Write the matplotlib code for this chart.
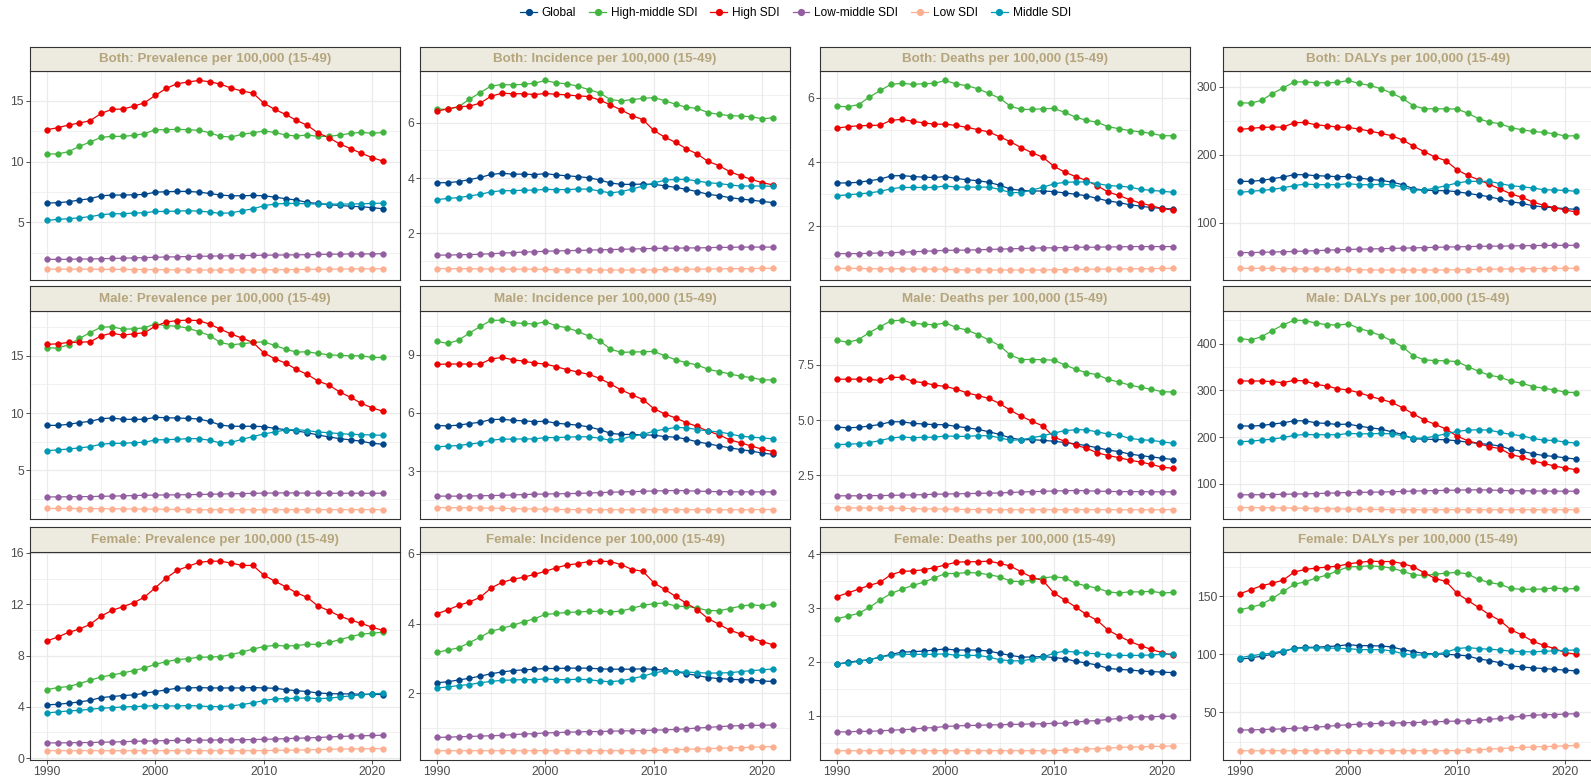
import matplotlib

matplotlib.use("Agg")
import matplotlib.pyplot as plt
from matplotlib.lines import Line2D

plt.rcParams["font.family"] = ["Liberation Sans", "DejaVu Sans"]

years = list(range(1990, 2022))
series_names = ["Global", "High-middle SDI", "High SDI", "Low-middle SDI", "Low SDI", "Middle SDI"]
series_colors = ["#00468B", "#42B540", "#ED0000", "#925E9F", "#FDAF91", "#0099B4"]

# ---- Both: Prevalence ----
both_prev_global = [6.59, 6.62, 6.70, 6.84, 6.95, 7.19, 7.25, 7.25, 7.27, 7.30, 7.49, 7.52, 7.55, 7.55, 7.49, 7.38,
                    7.25, 7.19, 7.19, 7.22, 7.19, 7.08, 6.95, 6.84, 6.64, 6.56, 6.45, 6.40, 6.32, 6.29, 6.21, 6.12]
both_prev_hm = [10.63, 10.63, 10.82, 11.26, 11.62, 12.00, 12.08, 12.08, 12.16, 12.30, 12.63, 12.63, 12.66, 12.63, 12.58, 12.38,
                12.08, 12.03, 12.25, 12.38, 12.52, 12.41, 12.19, 12.11, 12.19, 12.08, 12.08, 12.19, 12.33, 12.41, 12.33, 12.41]
both_prev_high = [12.63, 12.79, 13.01, 13.18, 13.37, 13.97, 14.30, 14.33, 14.55, 14.85, 15.45, 16.03, 16.41, 16.55, 16.68, 16.58,
                  16.38, 16.05, 15.81, 15.64, 14.82, 14.30, 13.89, 13.40, 12.99, 12.36, 11.97, 11.45, 11.07, 10.68, 10.33, 10.03]
both_prev_lm = [1.96, 1.96, 1.97, 1.98, 1.99, 2.01, 2.03, 2.05, 2.08, 2.10, 2.13, 2.15, 2.17, 2.19, 2.21, 2.22,
                2.24, 2.25, 2.27, 2.28, 2.30, 2.31, 2.32, 2.33, 2.34, 2.36, 2.38, 2.39, 2.40, 2.40, 2.41, 2.42]
both_prev_low = [1.15, 1.15, 1.15, 1.15, 1.14, 1.14, 1.13, 1.13, 1.12, 1.12, 1.11, 1.10, 1.09, 1.09, 1.08, 1.08,
                 1.08, 1.08, 1.08, 1.08, 1.09, 1.10, 1.11, 1.12, 1.13, 1.14, 1.15, 1.16, 1.17, 1.18, 1.18, 1.19]
both_prev_mid = [5.16, 5.25, 5.30, 5.38, 5.47, 5.63, 5.71, 5.71, 5.77, 5.79, 5.90, 5.90, 5.93, 5.96, 5.93, 5.85,
                 5.74, 5.79, 5.96, 6.12, 6.37, 6.51, 6.56, 6.56, 6.53, 6.51, 6.51, 6.51, 6.51, 6.53, 6.56, 6.59]

# ---- Both: Incidence ----
both_inc_global = [3.83, 3.83, 3.87, 3.94, 4.02, 4.13, 4.17, 4.14, 4.14, 4.12, 4.16, 4.11, 4.08, 4.05, 4.01, 3.93,
                   3.82, 3.77, 3.77, 3.78, 3.77, 3.72, 3.66, 3.59, 3.51, 3.41, 3.36, 3.29, 3.24, 3.20, 3.15, 3.11]
both_inc_hm = [6.50, 6.48, 6.58, 6.85, 7.09, 7.33, 7.38, 7.37, 7.39, 7.43, 7.53, 7.44, 7.41, 7.32, 7.20, 7.08,
               6.84, 6.79, 6.84, 6.88, 6.91, 6.80, 6.67, 6.56, 6.52, 6.37, 6.30, 6.26, 6.24, 6.22, 6.14, 6.18]
both_inc_high = [6.42, 6.50, 6.58, 6.60, 6.71, 6.96, 7.07, 7.05, 7.05, 7.02, 7.06, 7.03, 7.01, 6.97, 6.95, 6.82,
                 6.65, 6.46, 6.26, 6.11, 5.72, 5.48, 5.29, 5.06, 4.87, 4.60, 4.45, 4.23, 4.08, 3.95, 3.83, 3.75]
both_inc_lm = [1.21, 1.21, 1.22, 1.23, 1.24, 1.26, 1.28, 1.30, 1.32, 1.33, 1.35, 1.36, 1.37, 1.38, 1.39, 1.40,
               1.41, 1.42, 1.43, 1.44, 1.45, 1.46, 1.46, 1.47, 1.47, 1.48, 1.49, 1.49, 1.50, 1.50, 1.50, 1.50]
both_inc_low = [0.72, 0.72, 0.72, 0.72, 0.71, 0.71, 0.71, 0.70, 0.70, 0.70, 0.69, 0.68, 0.68, 0.67, 0.67, 0.67,
                0.67, 0.67, 0.67, 0.67, 0.68, 0.69, 0.69, 0.70, 0.70, 0.71, 0.71, 0.72, 0.72, 0.72, 0.73, 0.73]
both_inc_mid = [3.22, 3.26, 3.29, 3.35, 3.41, 3.50, 3.54, 3.54, 3.56, 3.56, 3.59, 3.58, 3.58, 3.60, 3.60, 3.53,
                3.46, 3.51, 3.60, 3.71, 3.82, 3.92, 3.95, 3.95, 3.89, 3.83, 3.80, 3.75, 3.71, 3.71, 3.71, 3.70]

# ---- Both: Deaths ----
both_dth_global = [3.35, 3.35, 3.37, 3.42, 3.47, 3.57, 3.58, 3.55, 3.53, 3.52, 3.55, 3.49, 3.45, 3.42, 3.37, 3.28,
                   3.16, 3.12, 3.10, 3.10, 3.08, 3.04, 3.00, 2.95, 2.87, 2.79, 2.74, 2.67, 2.63, 2.58, 2.56, 2.54]
both_dth_hm = [5.74, 5.72, 5.79, 6.02, 6.23, 6.42, 6.45, 6.42, 6.44, 6.45, 6.54, 6.43, 6.38, 6.28, 6.14, 5.99,
               5.74, 5.64, 5.64, 5.66, 5.67, 5.55, 5.40, 5.30, 5.24, 5.10, 5.04, 4.98, 4.94, 4.89, 4.82, 4.82]
both_dth_high = [5.06, 5.10, 5.13, 5.14, 5.15, 5.30, 5.33, 5.27, 5.22, 5.18, 5.18, 5.14, 5.08, 5.01, 4.94, 4.79,
                 4.63, 4.45, 4.29, 4.15, 3.87, 3.69, 3.55, 3.43, 3.26, 3.07, 2.96, 2.83, 2.72, 2.64, 2.55, 2.51]
both_dth_lm = [1.15, 1.15, 1.15, 1.16, 1.17, 1.18, 1.19, 1.21, 1.22, 1.24, 1.25, 1.26, 1.26, 1.27, 1.28, 1.29,
               1.30, 1.31, 1.32, 1.33, 1.33, 1.34, 1.35, 1.35, 1.35, 1.36, 1.36, 1.37, 1.37, 1.37, 1.37, 1.37]
both_dth_low = [0.69, 0.69, 0.69, 0.68, 0.68, 0.68, 0.68, 0.67, 0.67, 0.67, 0.66, 0.65, 0.64, 0.64, 0.64, 0.64,
                0.64, 0.64, 0.64, 0.64, 0.65, 0.65, 0.66, 0.66, 0.67, 0.67, 0.67, 0.68, 0.68, 0.68, 0.69, 0.69]
both_dth_mid = [2.95, 2.98, 3.01, 3.04, 3.09, 3.17, 3.21, 3.21, 3.21, 3.21, 3.26, 3.22, 3.22, 3.22, 3.22, 3.15,
                3.05, 3.05, 3.13, 3.22, 3.32, 3.37, 3.38, 3.38, 3.33, 3.27, 3.25, 3.22, 3.15, 3.12, 3.09, 3.06]

# ---- Both: DALYs ----
both_daly_global = [160.8, 160.8, 162.3, 164.7, 167.2, 170.6, 170.6, 169.1, 168.6, 167.6, 168.1, 165.7, 163.7, 162.3, 159.8, 155.9,
                    150.0, 148.0, 147.1, 147.1, 145.6, 143.1, 140.7, 138.2, 134.3, 130.9, 128.4, 125.0, 123.0, 122.0, 120.6, 119.6]
both_daly_hm = [276.5, 276.0, 280.0, 290.0, 298.5, 306.9, 307.4, 305.9, 305.9, 306.4, 309.3, 304.9, 302.0, 297.1, 290.7, 282.8,
                272.1, 267.6, 267.6, 267.6, 267.2, 261.3, 253.0, 248.0, 245.6, 239.7, 236.8, 234.3, 232.8, 230.9, 227.5, 228.0]
both_daly_high = [237.3, 238.7, 240.2, 240.7, 240.7, 247.1, 247.5, 244.1, 242.6, 240.7, 240.2, 237.7, 234.8, 231.4, 228.0, 221.6,
                  212.7, 204.4, 196.6, 191.2, 178.0, 169.6, 163.2, 156.4, 149.5, 142.2, 137.3, 130.4, 125.5, 122.1, 118.6, 115.7]
both_daly_lm = [55.9, 56.0, 56.3, 56.8, 57.2, 57.6, 58.2, 58.8, 59.4, 60.1, 60.6, 61.0, 61.3, 61.7, 62.1, 62.5,
                62.9, 63.3, 63.7, 64.1, 64.4, 64.8, 65.1, 65.3, 65.5, 65.7, 66.0, 66.3, 66.5, 66.6, 66.7, 66.7]
both_daly_low = [32.8, 32.8, 32.7, 32.6, 32.4, 32.2, 32.0, 31.8, 31.6, 31.4, 31.2, 30.8, 30.5, 30.4, 30.3, 30.3,
                 30.3, 30.3, 30.3, 30.4, 30.6, 30.9, 31.2, 31.5, 31.8, 32.0, 32.2, 32.4, 32.5, 32.6, 32.7, 32.8]
both_daly_mid = [144.6, 146.1, 147.5, 149.0, 151.5, 154.4, 156.9, 155.9, 155.9, 155.9, 157.4, 155.9, 155.9, 156.4, 155.9, 152.5,
                 148.0, 148.0, 151.0, 154.4, 158.3, 160.8, 160.8, 160.8, 157.4, 154.4, 152.9, 151.0, 148.5, 148.0, 147.5, 146.1]

# ---- Male: Prevalence ----
male_prev_global = [8.92, 8.92, 9.01, 9.16, 9.27, 9.51, 9.56, 9.45, 9.45, 9.45, 9.62, 9.59, 9.56, 9.53, 9.48, 9.27,
                    8.95, 8.84, 8.84, 8.84, 8.81, 8.66, 8.55, 8.43, 8.28, 8.08, 7.91, 7.76, 7.65, 7.53, 7.35, 7.27]
male_prev_hm = [15.70, 15.67, 15.96, 16.51, 17.03, 17.50, 17.53, 17.33, 17.35, 17.44, 17.79, 17.62, 17.59, 17.41, 17.12, 16.77,
                16.16, 15.96, 16.05, 16.16, 16.22, 15.90, 15.58, 15.32, 15.35, 15.20, 15.09, 15.03, 15.00, 15.00, 14.85, 14.85]
male_prev_high = [15.99, 16.05, 16.16, 16.19, 16.22, 16.74, 16.98, 16.80, 16.92, 17.01, 17.59, 17.94, 18.08, 18.11, 18.08, 17.76,
                  17.33, 16.89, 16.54, 16.16, 15.26, 14.74, 14.36, 13.81, 13.37, 12.79, 12.44, 11.83, 11.37, 10.84, 10.44, 10.15]
male_prev_lm = [2.67, 2.67, 2.68, 2.69, 2.70, 2.72, 2.74, 2.76, 2.79, 2.81, 2.83, 2.84, 2.85, 2.86, 2.88, 2.90,
                2.92, 2.94, 2.96, 2.98, 3.00, 3.01, 3.02, 3.01, 3.00, 2.99, 2.99, 2.99, 2.99, 2.99, 2.99, 2.99]
male_prev_low = [1.66, 1.66, 1.66, 1.65, 1.65, 1.64, 1.64, 1.63, 1.62, 1.61, 1.60, 1.58, 1.57, 1.56, 1.55, 1.55,
                 1.55, 1.55, 1.55, 1.55, 1.55, 1.55, 1.55, 1.55, 1.55, 1.55, 1.56, 1.56, 1.56, 1.56, 1.56, 1.56]
male_prev_mid = [6.72, 6.77, 6.86, 6.95, 7.06, 7.27, 7.35, 7.35, 7.41, 7.44, 7.65, 7.67, 7.70, 7.76, 7.76, 7.62,
                 7.38, 7.44, 7.70, 7.94, 8.17, 8.34, 8.52, 8.55, 8.46, 8.34, 8.28, 8.20, 8.14, 8.11, 8.08, 8.05]

# ---- Male: Incidence ----
male_inc_global = [5.35, 5.33, 5.37, 5.45, 5.52, 5.66, 5.67, 5.62, 5.59, 5.55, 5.57, 5.47, 5.42, 5.37, 5.28, 5.14,
                   4.95, 4.89, 4.89, 4.87, 4.85, 4.78, 4.75, 4.65, 4.51, 4.41, 4.30, 4.20, 4.11, 4.03, 3.93, 3.86]
male_inc_hm = [9.69, 9.58, 9.75, 10.11, 10.46, 10.77, 10.78, 10.65, 10.61, 10.58, 10.70, 10.49, 10.39, 10.20, 9.96, 9.72,
               9.29, 9.12, 9.14, 9.15, 9.17, 8.95, 8.74, 8.59, 8.47, 8.25, 8.13, 8.01, 7.89, 7.82, 7.70, 7.70]
male_inc_high = [8.50, 8.52, 8.52, 8.52, 8.52, 8.78, 8.86, 8.74, 8.67, 8.57, 8.52, 8.38, 8.23, 8.11, 7.99, 7.78,
                 7.49, 7.18, 6.93, 6.69, 6.22, 5.95, 5.74, 5.50, 5.30, 5.06, 4.87, 4.61, 4.46, 4.29, 4.13, 4.01]
male_inc_lm = [1.71, 1.71, 1.71, 1.72, 1.73, 1.74, 1.75, 1.77, 1.79, 1.81, 1.82, 1.83, 1.84, 1.85, 1.87, 1.89,
               1.91, 1.93, 1.94, 1.96, 1.98, 1.99, 2.00, 1.99, 1.97, 1.95, 1.94, 1.94, 1.93, 1.93, 1.93, 1.93]
male_inc_low = [1.12, 1.12, 1.11, 1.11, 1.10, 1.09, 1.08, 1.07, 1.06, 1.05, 1.04, 1.03, 1.02, 1.01, 1.01, 1.01,
                1.01, 1.01, 1.01, 1.01, 1.01, 1.01, 1.01, 1.01, 1.01, 1.01, 1.01, 1.01, 1.01, 1.01, 1.02, 1.02]
male_inc_mid = [4.25, 4.29, 4.32, 4.39, 4.46, 4.59, 4.65, 4.65, 4.66, 4.66, 4.73, 4.73, 4.75, 4.77, 4.77, 4.70,
                4.59, 4.65, 4.80, 4.89, 5.06, 5.16, 5.25, 5.23, 5.14, 5.07, 5.02, 4.92, 4.80, 4.75, 4.71, 4.66]

# ---- Male: Deaths ----
male_dth_global = [4.68, 4.65, 4.67, 4.73, 4.80, 4.92, 4.92, 4.85, 4.82, 4.79, 4.79, 4.71, 4.65, 4.58, 4.47, 4.35,
                   4.19, 4.11, 4.11, 4.08, 4.04, 3.98, 3.92, 3.84, 3.75, 3.64, 3.57, 3.46, 3.39, 3.33, 3.27, 3.21]
male_dth_hm = [8.61, 8.52, 8.64, 8.96, 9.23, 9.49, 9.52, 9.38, 9.34, 9.31, 9.40, 9.19, 9.07, 8.87, 8.63, 8.37,
               7.94, 7.74, 7.74, 7.73, 7.71, 7.50, 7.30, 7.14, 7.05, 6.84, 6.72, 6.58, 6.48, 6.39, 6.28, 6.27]
male_dth_high = [6.85, 6.85, 6.85, 6.84, 6.79, 6.93, 6.93, 6.75, 6.69, 6.58, 6.52, 6.40, 6.23, 6.11, 5.98, 5.75,
                 5.44, 5.17, 4.94, 4.73, 4.23, 4.04, 3.87, 3.72, 3.52, 3.39, 3.30, 3.18, 3.10, 2.99, 2.86, 2.82]
male_dth_lm = [1.57, 1.57, 1.57, 1.58, 1.58, 1.59, 1.60, 1.61, 1.62, 1.64, 1.65, 1.66, 1.67, 1.68, 1.69, 1.70,
               1.72, 1.74, 1.76, 1.77, 1.79, 1.80, 1.81, 1.80, 1.78, 1.77, 1.76, 1.76, 1.76, 1.75, 1.75, 1.75]
male_dth_low = [1.03, 1.03, 1.02, 1.02, 1.01, 1.01, 1.00, 0.99, 0.98, 0.98, 0.97, 0.96, 0.95, 0.95, 0.94, 0.94,
                0.94, 0.94, 0.94, 0.94, 0.94, 0.94, 0.94, 0.94, 0.94, 0.94, 0.94, 0.94, 0.94, 0.94, 0.94, 0.95]
male_dth_mid = [3.89, 3.90, 3.93, 3.98, 4.07, 4.19, 4.23, 4.20, 4.22, 4.22, 4.28, 4.26, 4.26, 4.29, 4.29, 4.20,
                4.08, 4.11, 4.20, 4.29, 4.41, 4.52, 4.56, 4.56, 4.46, 4.37, 4.31, 4.17, 4.11, 4.08, 4.01, 3.95]

# ---- Male: DALYs ----
male_daly_global = [224.2, 223.5, 224.9, 227.8, 230.6, 234.9, 234.9, 230.6, 229.2, 227.1, 227.8, 223.5, 220.0, 217.1, 211.4, 205.7,
                    196.4, 195.7, 195.0, 194.3, 192.2, 189.3, 186.5, 184.3, 180.8, 173.6, 170.1, 164.4, 160.8, 158.7, 155.8, 153.0]
male_daly_hm = [410.7, 407.8, 414.3, 427.8, 439.9, 449.9, 449.2, 443.5, 440.6, 439.2, 442.1, 432.1, 425.7, 417.1, 405.7, 392.9,
                373.6, 365.1, 363.6, 362.9, 361.5, 350.8, 340.8, 332.3, 328.0, 319.5, 315.2, 308.1, 304.5, 300.9, 296.0, 295.2]
male_daly_high = [320.0, 320.0, 320.0, 318.5, 316.4, 321.4, 320.0, 312.8, 309.3, 303.6, 300.7, 295.0, 287.2, 280.8, 274.3, 262.9,
                  249.4, 236.6, 227.3, 217.3, 202.4, 192.4, 186.0, 179.6, 175.3, 162.4, 157.4, 149.6, 143.9, 138.2, 133.9, 130.4]
male_daly_lm = [76.7, 76.8, 77.0, 77.4, 77.9, 78.4, 78.8, 79.4, 80.1, 81.0, 81.6, 82.0, 82.3, 82.7, 83.3, 84.0,
                84.8, 85.4, 85.8, 86.3, 86.9, 87.2, 87.4, 87.0, 86.2, 85.6, 85.3, 85.0, 84.8, 84.6, 84.5, 84.5]
male_daly_low = [49.6, 49.5, 49.3, 49.0, 48.7, 48.3, 47.9, 47.5, 47.1, 46.7, 46.3, 45.9, 45.6, 45.4, 45.2, 45.1,
                 45.0, 45.0, 45.0, 45.0, 45.0, 45.0, 45.0, 45.0, 44.9, 44.9, 44.9, 44.9, 44.9, 44.9, 45.0, 45.0]
male_daly_mid = [190.0, 191.4, 193.6, 195.7, 199.3, 203.6, 205.7, 205.0, 205.0, 205.0, 207.8, 207.1, 207.1, 207.8, 207.1, 202.9,
                 197.9, 197.9, 202.1, 207.1, 212.1, 215.0, 215.7, 215.0, 210.0, 205.7, 202.9, 197.1, 193.6, 192.9, 189.3, 187.2]

# ---- Female: Prevalence ----
fem_prev_global = [4.15, 4.20, 4.28, 4.38, 4.51, 4.72, 4.80, 4.88, 4.93, 5.06, 5.19, 5.32, 5.45, 5.47, 5.50, 5.47,
                   5.47, 5.47, 5.47, 5.50, 5.47, 5.45, 5.34, 5.26, 5.19, 5.08, 5.03, 5.01, 5.01, 4.98, 4.98, 4.95]
fem_prev_hm = [5.34, 5.50, 5.58, 5.81, 6.07, 6.33, 6.48, 6.64, 6.82, 7.03, 7.31, 7.52, 7.68, 7.75, 7.86, 7.88,
               7.91, 8.07, 8.27, 8.51, 8.69, 8.79, 8.74, 8.77, 8.87, 8.87, 9.02, 9.23, 9.47, 9.67, 9.73, 9.83]
fem_prev_high = [9.13, 9.44, 9.80, 10.06, 10.43, 11.07, 11.51, 11.80, 12.11, 12.55, 13.28, 14.03, 14.63, 14.94, 15.25, 15.35,
                 15.35, 15.20, 15.02, 15.02, 14.26, 13.80, 13.36, 12.89, 12.53, 11.85, 11.49, 11.07, 10.76, 10.50, 10.19, 9.96]
fem_prev_lm = [1.19, 1.19, 1.20, 1.21, 1.22, 1.24, 1.26, 1.28, 1.31, 1.33, 1.35, 1.37, 1.38, 1.39, 1.40, 1.41,
               1.42, 1.43, 1.44, 1.45, 1.47, 1.49, 1.52, 1.55, 1.58, 1.61, 1.65, 1.69, 1.72, 1.74, 1.77, 1.79]
fem_prev_low = [0.58, 0.58, 0.58, 0.58, 0.58, 0.58, 0.58, 0.58, 0.58, 0.58, 0.58, 0.58, 0.58, 0.58, 0.58, 0.58,
                0.58, 0.58, 0.58, 0.58, 0.59, 0.60, 0.61, 0.63, 0.65, 0.67, 0.69, 0.71, 0.72, 0.73, 0.74, 0.75]
fem_prev_mid = [3.53, 3.60, 3.68, 3.73, 3.81, 3.89, 3.94, 3.99, 4.02, 4.05, 4.10, 4.07, 4.07, 4.10, 4.07, 4.02,
                4.02, 4.07, 4.18, 4.31, 4.49, 4.62, 4.64, 4.67, 4.69, 4.64, 4.67, 4.77, 4.85, 4.93, 5.01, 5.06]

# ---- Female: Incidence ----
fem_inc_global = [2.30, 2.33, 2.38, 2.43, 2.49, 2.56, 2.61, 2.65, 2.67, 2.69, 2.71, 2.71, 2.72, 2.72, 2.72, 2.70,
                  2.69, 2.69, 2.69, 2.70, 2.69, 2.66, 2.62, 2.56, 2.51, 2.45, 2.42, 2.40, 2.39, 2.38, 2.35, 2.34]
fem_inc_hm = [3.17, 3.24, 3.30, 3.45, 3.61, 3.78, 3.86, 3.95, 4.05, 4.14, 4.26, 4.29, 4.32, 4.33, 4.35, 4.35,
              4.33, 4.36, 4.44, 4.52, 4.57, 4.59, 4.50, 4.49, 4.45, 4.37, 4.37, 4.43, 4.50, 4.54, 4.51, 4.55]
fem_inc_high = [4.28, 4.39, 4.52, 4.62, 4.75, 5.02, 5.18, 5.27, 5.33, 5.41, 5.50, 5.60, 5.68, 5.72, 5.78, 5.79,
                5.78, 5.69, 5.55, 5.50, 5.17, 4.98, 4.78, 4.58, 4.40, 4.14, 3.98, 3.81, 3.70, 3.59, 3.48, 3.39]
fem_inc_lm = [0.73, 0.74, 0.75, 0.76, 0.77, 0.78, 0.79, 0.81, 0.83, 0.84, 0.86, 0.87, 0.88, 0.89, 0.90, 0.90,
              0.91, 0.92, 0.92, 0.93, 0.94, 0.95, 0.96, 0.98, 1.00, 1.02, 1.04, 1.06, 1.07, 1.08, 1.08, 1.09]
fem_inc_low = [0.35, 0.35, 0.35, 0.35, 0.35, 0.35, 0.35, 0.35, 0.35, 0.35, 0.35, 0.35, 0.35, 0.35, 0.35, 0.35,
               0.35, 0.35, 0.35, 0.35, 0.36, 0.37, 0.38, 0.39, 0.40, 0.41, 0.42, 0.43, 0.44, 0.45, 0.46, 0.47]
fem_inc_mid = [2.15, 2.18, 2.22, 2.25, 2.30, 2.34, 2.37, 2.38, 2.39, 2.39, 2.41, 2.39, 2.39, 2.40, 2.39, 2.35,
               2.33, 2.36, 2.42, 2.49, 2.58, 2.64, 2.61, 2.61, 2.59, 2.58, 2.58, 2.59, 2.62, 2.65, 2.67, 2.70]

# ---- Female: Deaths ----
fem_dth_global = [1.96, 1.99, 2.02, 2.04, 2.09, 2.14, 2.18, 2.19, 2.20, 2.22, 2.24, 2.22, 2.22, 2.22, 2.20, 2.16,
                  2.12, 2.09, 2.09, 2.10, 2.08, 2.06, 2.01, 1.98, 1.94, 1.88, 1.86, 1.85, 1.83, 1.82, 1.81, 1.80]
fem_dth_hm = [2.80, 2.85, 2.90, 3.01, 3.15, 3.27, 3.35, 3.42, 3.48, 3.56, 3.64, 3.64, 3.66, 3.65, 3.62, 3.58,
              3.50, 3.49, 3.52, 3.56, 3.58, 3.56, 3.46, 3.41, 3.37, 3.30, 3.28, 3.30, 3.30, 3.31, 3.28, 3.29]
fem_dth_high = [3.21, 3.28, 3.35, 3.42, 3.48, 3.62, 3.68, 3.69, 3.71, 3.75, 3.80, 3.85, 3.86, 3.86, 3.87, 3.83,
                3.78, 3.67, 3.57, 3.51, 3.28, 3.15, 3.02, 2.88, 2.77, 2.59, 2.48, 2.38, 2.30, 2.23, 2.17, 2.12]
fem_dth_lm = [0.70, 0.70, 0.71, 0.71, 0.72, 0.73, 0.74, 0.75, 0.77, 0.78, 0.80, 0.81, 0.82, 0.82, 0.83, 0.83,
              0.84, 0.84, 0.85, 0.85, 0.86, 0.86, 0.88, 0.90, 0.91, 0.93, 0.95, 0.97, 0.98, 0.98, 0.99, 0.99]
fem_dth_low = [0.35, 0.35, 0.35, 0.35, 0.35, 0.35, 0.35, 0.35, 0.35, 0.35, 0.35, 0.35, 0.35, 0.35, 0.35, 0.35,
               0.35, 0.35, 0.35, 0.35, 0.35, 0.36, 0.37, 0.38, 0.39, 0.40, 0.41, 0.42, 0.42, 0.43, 0.43, 0.44]
fem_dth_mid = [1.96, 1.98, 2.01, 2.04, 2.09, 2.12, 2.14, 2.14, 2.14, 2.14, 2.15, 2.12, 2.12, 2.12, 2.09, 2.04,
               2.02, 2.02, 2.05, 2.09, 2.16, 2.20, 2.18, 2.16, 2.15, 2.13, 2.12, 2.12, 2.12, 2.13, 2.14, 2.15]

# ---- Female: DALYs ----
fem_daly_global = [95.7, 96.9, 98.3, 100.0, 102.3, 105.1, 106.0, 106.0, 106.6, 107.1, 108.3, 107.4, 107.4, 107.1, 106.3, 104.0,
                   102.3, 100.6, 100.3, 100.0, 99.4, 98.6, 96.0, 94.6, 92.6, 90.0, 89.1, 88.3, 87.7, 87.1, 86.3, 85.7]
fem_daly_hm = [138.3, 140.3, 142.9, 148.0, 154.0, 160.0, 162.3, 165.4, 168.0, 171.7, 175.1, 175.4, 176.0, 175.4, 174.0, 171.4,
               168.3, 167.7, 168.9, 169.7, 170.3, 169.1, 164.3, 161.7, 160.0, 156.6, 155.7, 156.0, 156.0, 157.1, 156.0, 156.6]
fem_daly_high = [152.0, 155.4, 158.9, 161.1, 163.7, 170.6, 172.9, 174.0, 174.9, 175.7, 177.7, 178.9, 180.0, 179.7, 179.7, 178.0,
                 175.1, 170.0, 165.1, 162.6, 152.6, 146.3, 140.3, 134.0, 128.9, 120.9, 116.6, 111.1, 107.7, 104.9, 101.4, 100.0]
fem_daly_lm = [34.9, 35.0, 35.3, 35.6, 35.9, 36.3, 36.8, 37.3, 38.0, 38.8, 39.4, 39.9, 40.3, 40.6, 40.9, 41.1,
               41.3, 41.6, 41.9, 42.3, 42.6, 42.8, 43.4, 44.1, 44.8, 45.7, 46.7, 47.6, 48.0, 48.2, 48.6, 48.9]
fem_daly_low = [17.1, 17.1, 17.1, 17.1, 17.1, 17.1, 17.1, 17.1, 17.1, 17.2, 17.2, 17.2, 17.1, 17.1, 17.1, 17.1,
                17.1, 17.1, 17.1, 17.1, 17.2, 17.5, 18.0, 18.5, 19.0, 19.5, 19.9, 20.3, 20.6, 20.9, 21.3, 21.7]
fem_daly_mid = [97.1, 98.6, 100.0, 101.1, 102.9, 104.9, 105.4, 105.4, 105.4, 105.1, 104.9, 104.0, 104.0, 104.0, 102.9, 100.6,
                99.4, 99.4, 100.0, 101.7, 104.9, 105.7, 104.9, 104.3, 103.7, 102.6, 102.3, 102.0, 102.6, 102.9, 103.4, 103.7]

panel_titles = [
    "Both: Prevalence per 100,000 (15-49)", "Both: Incidence per 100,000 (15-49)",
    "Both: Deaths per 100,000 (15-49)", "Both: DALYs per 100,000 (15-49)",
    "Male: Prevalence per 100,000 (15-49)", "Male: Incidence per 100,000 (15-49)",
    "Male: Deaths per 100,000 (15-49)", "Male: DALYs per 100,000 (15-49)",
    "Female: Prevalence per 100,000 (15-49)", "Female: Incidence per 100,000 (15-49)",
    "Female: Deaths per 100,000 (15-49)", "Female: DALYs per 100,000 (15-49)",
]
panel_series = [
    [both_prev_global, both_prev_hm, both_prev_high, both_prev_lm, both_prev_low, both_prev_mid],
    [both_inc_global, both_inc_hm, both_inc_high, both_inc_lm, both_inc_low, both_inc_mid],
    [both_dth_global, both_dth_hm, both_dth_high, both_dth_lm, both_dth_low, both_dth_mid],
    [both_daly_global, both_daly_hm, both_daly_high, both_daly_lm, both_daly_low, both_daly_mid],
    [male_prev_global, male_prev_hm, male_prev_high, male_prev_lm, male_prev_low, male_prev_mid],
    [male_inc_global, male_inc_hm, male_inc_high, male_inc_lm, male_inc_low, male_inc_mid],
    [male_dth_global, male_dth_hm, male_dth_high, male_dth_lm, male_dth_low, male_dth_mid],
    [male_daly_global, male_daly_hm, male_daly_high, male_daly_lm, male_daly_low, male_daly_mid],
    [fem_prev_global, fem_prev_hm, fem_prev_high, fem_prev_lm, fem_prev_low, fem_prev_mid],
    [fem_inc_global, fem_inc_hm, fem_inc_high, fem_inc_lm, fem_inc_low, fem_inc_mid],
    [fem_dth_global, fem_dth_hm, fem_dth_high, fem_dth_lm, fem_dth_low, fem_dth_mid],
    [fem_daly_global, fem_daly_hm, fem_daly_high, fem_daly_lm, fem_daly_low, fem_daly_mid],
]
panel_yticks = [
    [5, 10, 15], [2, 4, 6], [2, 4, 6], [100, 200, 300],
    [5, 10, 15], [3, 6, 9], [2.5, 5.0, 7.5], [100, 200, 300, 400],
    [0, 4, 8, 12, 16], [2, 4, 6], [1, 2, 3, 4], [50, 100, 150],
]
panel_ylabels = [
    ["5", "10", "15"], ["2", "4", "6"], ["2", "4", "6"], ["100", "200", "300"],
    ["5", "10", "15"], ["3", "6", "9"], ["2.5", "5.0", "7.5"], ["100", "200", "300", "400"],
    ["0", "4", "8", "12", "16"], ["2", "4", "6"], ["1", "2", "3", "4"], ["50", "100", "150"],
]
x_major = [1990, 2000, 2010, 2020]
x_minor = [1995, 2005, 2015]

# layout in pixels of the reference image
W, H = 1591, 783
col_left = [30, 420, 820, 1223]
panel_w = 370
row_top = [71, 310.7, 551.7]
panel_h = 208.5
strip_h = 24.3

strip_fill = "#EDEADF"
strip_text = "#B5A57C"
border_col = "#333333"
grid_col = "#EBEBEB"

fig = plt.figure(figsize=(W / 100, H / 100), dpi=100)

for idx in range(12):
    r, c = divmod(idx, 4)
    left = col_left[c] / W
    bottom = 1 - (row_top[r] + panel_h) / H
    ax = fig.add_axes([left, bottom, panel_w / W, panel_h / H])

    for values, color in zip(panel_series[idx], series_colors):
        ax.plot(years, values, color=color, lw=0.9, zorder=2)
    for values, color in zip(panel_series[idx], series_colors):
        ax.plot(years, values, ls="none", marker="o", ms=4.2, mfc=color, mec=color, mew=0.3, zorder=3)

    ax.margins(x=0.05, y=0.05)
    ticks = panel_yticks[idx]
    step = ticks[1] - ticks[0]
    y_minor = [t - step / 2 for t in ticks] + [ticks[-1] + step / 2]
    ylo, yhi = ax.get_ylim()
    xlo, xhi = ax.get_xlim()
    for yv in y_minor:
        if ylo < yv < yhi:
            ax.axhline(yv, color=grid_col, lw=0.5, zorder=0)
    for yv in ticks:
        ax.axhline(yv, color=grid_col, lw=0.9, zorder=0)
    for xv in x_minor:
        ax.axvline(xv, color=grid_col, lw=0.5, zorder=0)
    for xv in x_major:
        ax.axvline(xv, color=grid_col, lw=0.9, zorder=0)
    ax.set_ylim(ylo, yhi)
    ax.set_xlim(xlo, xhi)

    ax.set_yticks(ticks, labels=panel_ylabels[idx])
    ax.set_xticks(x_major, labels=[str(x) for x in x_major])
    ax.tick_params(axis="both", direction="out", length=2.8, width=0.6, color=border_col,
                   labelsize=8.8, labelcolor="#4D4D4D", pad=1.5)
    if r < 2:
        ax.tick_params(axis="x", bottom=False, labelbottom=False)
    for spine in ax.spines.values():
        spine.set_color(border_col)
        spine.set_linewidth(0.8)

    sax = fig.add_axes([left, 1 - row_top[r] / H, panel_w / W, strip_h / H])
    sax.set_facecolor(strip_fill)
    sax.set_xticks([])
    sax.set_yticks([])
    for spine in sax.spines.values():
        spine.set_color(border_col)
        spine.set_linewidth(0.8)
    sax.text(0.5, 0.5, panel_titles[idx], transform=sax.transAxes, ha="center", va="center",
             fontsize=9.6, fontweight="bold", color=strip_text)

handles = [
    Line2D([0], [0], color=color, lw=0.9, marker="o", ms=4.2, mfc=color, mec=color)
    for color in series_colors
]
fig.legend(handles, series_names, loc="center", bbox_to_anchor=(0.5, 1 - 13 / H), ncol=6,
           frameon=False, fontsize=8.6, handlelength=1.4, handletextpad=0.4, columnspacing=1.1)

fig.savefig("out.png", dpi=100)
plt.close(fig)
